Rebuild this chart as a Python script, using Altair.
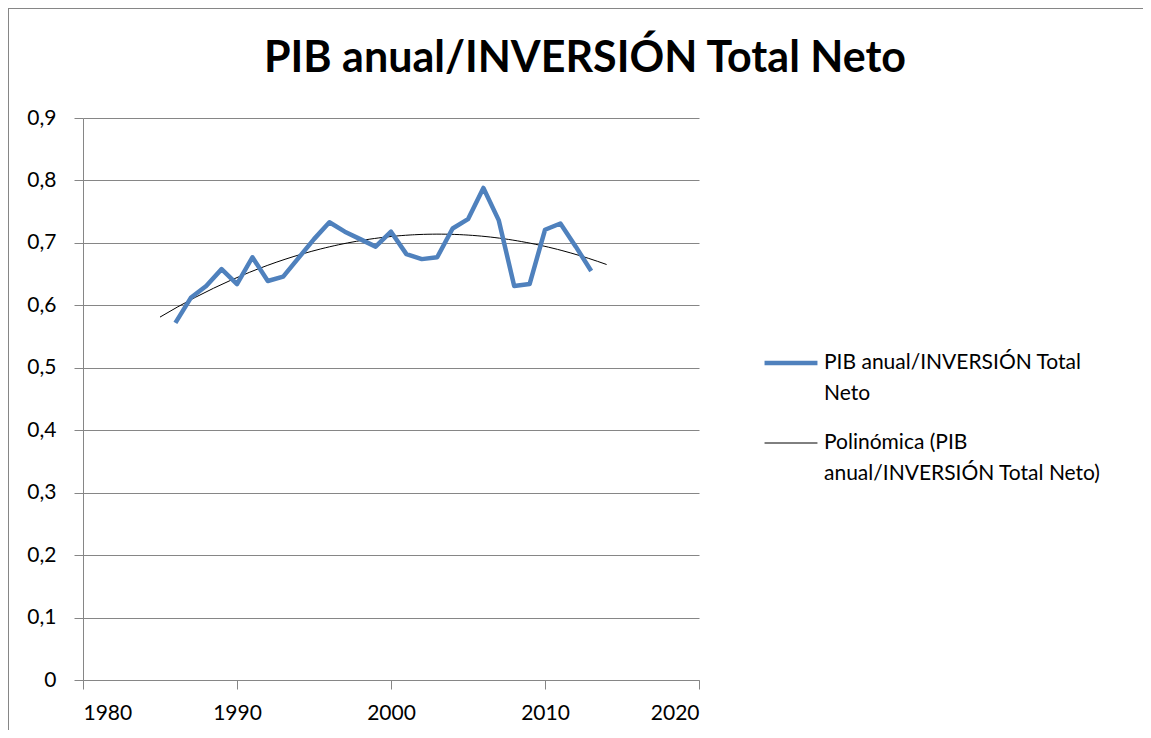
import altair as alt
import pandas as pd

years = list(range(1986, 2014))
values = [0.572, 0.612, 0.631, 0.658, 0.634, 0.677, 0.639, 0.646, 0.676, 0.706,
          0.733, 0.718, 0.706, 0.694, 0.718, 0.682, 0.674, 0.677, 0.723, 0.738,
          0.788, 0.736, 0.631, 0.634, 0.721, 0.731, 0.694, 0.655]
series_names = ["PIB anual/INVERSIÓN Total Neto",
                "Polinómica (PIB anual/INVERSIÓN Total Neto)"]
series_colors = ["#4F81BD", "#000000"]
series_widths = [4.5, 1.0]
x_ticks = [1980, 1990, 2000, 2010, 2020]
y_ticks = [0, 0.1, 0.2, 0.3, 0.4, 0.5, 0.6, 0.7, 0.8, 0.9]
title_text = "PIB anual/INVERSIÓN Total Neto"

df = pd.DataFrame({"year": years, "value": values, "series": series_names[0]})

FONT = "Lato"

color_scale = alt.Scale(domain=series_names, range=series_colors)
width_scale = alt.Scale(domain=series_names, range=series_widths)

legend_label_expr = (
    "datum.label == '" + series_names[0] + "' ? ['PIB anual/INVERSIÓN Total', 'Neto'] : "
    "['Polinómica (PIB', 'anual/INVERSIÓN Total Neto)']"
)

legend = alt.Legend(
    title=None, orient="none", legendX=679, legendY=216,
    symbolType="stroke", symbolSize=2800, labelFont=FONT, labelFontSize=21,
    labelBaseline="middle", labelColor="#000000",
    labelLimit=400, labelOffset=4, rowPadding=12, padding=0,
    labelExpr=legend_label_expr,
)

x_enc = alt.X("year:Q", scale=alt.Scale(domain=[1980, 2020], nice=False),
              axis=alt.Axis(values=x_ticks, format="d", title=None, grid=False,
                            labelPadding=13))
y_enc = alt.Y("value:Q", scale=alt.Scale(domain=[0, 0.9], nice=False),
              axis=alt.Axis(values=y_ticks, title=None, grid=True, labelPadding=18,
                            labelExpr="datum.value == 0 ? '0' : replace(format(datum.value, '.1f'), '.', ',')"))

base = alt.Chart(df)

data_line = base.mark_line(strokeJoin="round", strokeCap="butt").encode(
    x=x_enc, y=y_enc,
    color=alt.Color("series:N", scale=color_scale, legend=legend),
    strokeWidth=alt.StrokeWidth("series:N", scale=width_scale, legend=legend),
)

trend = base.transform_regression(
    "year", "value", method="poly", order=2, extent=[1985, 2014]
).transform_calculate(
    series="'" + series_names[1] + "'"
).mark_line().encode(
    x=x_enc, y=y_enc,
    color=alt.Color("series:N", scale=color_scale, legend=legend),
    strokeWidth=alt.StrokeWidth("series:N", scale=width_scale, legend=legend),
)

border = alt.Chart(pd.DataFrame({"k": [0]})).mark_rect(
    fill=None, stroke="#868686", strokeWidth=2
).encode(x=alt.value(-75), y=alt.value(-110), x2=alt.value(1500), y2=alt.value(1000))

chart = alt.layer(border, trend, data_line).properties(
    width=616, height=562,
    title=alt.TitleParams(title_text, font=FONT, fontSize=43, fontWeight="bold",
                          color="#000000", anchor="middle", frame="group",
                          dx=194, dy=102, offset=28),
    autosize=alt.AutoSizeParams(type="none"),
    padding={"left": 75, "top": 110, "right": 444, "bottom": 50},
).configure(
    style={"guide-label": {"lineHeight": 31}},
).configure_view(stroke=None).configure_axis(
    labelFont=FONT, labelFontSize=21, labelColor="#000000",
    domainColor="#868686", tickColor="#868686", gridColor="#868686",
    tickSize=9, domainWidth=1, gridWidth=1,
)

chart.save("out.html", embed_options={"renderer": "svg", "actions": False})
